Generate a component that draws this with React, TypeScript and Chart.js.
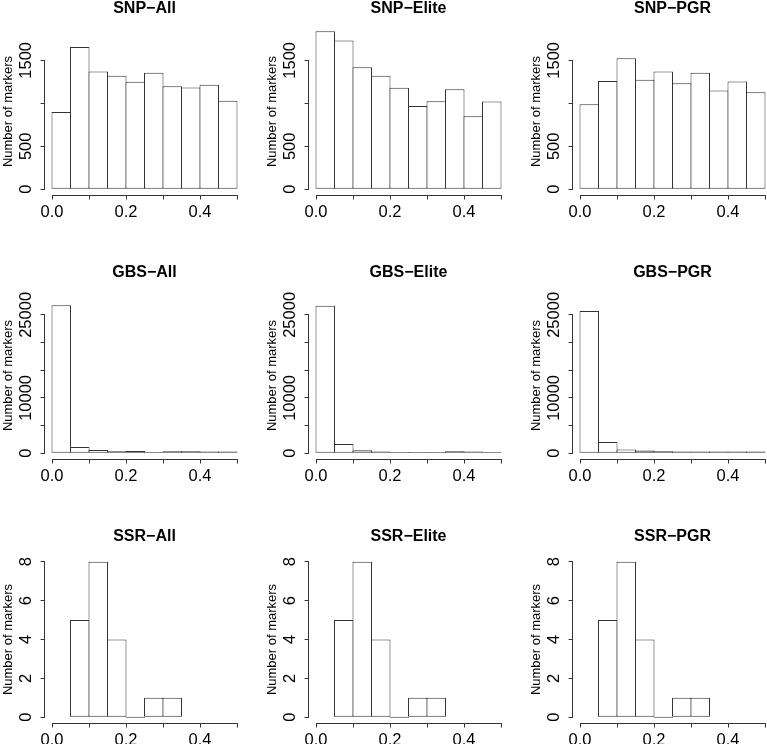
import React, { useEffect, useRef } from "react";
import { Chart, registerables } from "chart.js";

Chart.register(...registerables);

// ---------- data ----------
const fullBinCenters = [0.025, 0.075, 0.125, 0.175, 0.225, 0.275, 0.325, 0.375, 0.425, 0.475];
const ssrBinCenters = [0.075, 0.125, 0.175, 0.225, 0.275, 0.325];

const snpAll = [900, 1655, 1370, 1320, 1250, 1355, 1200, 1185, 1215, 1030];
const snpElite = [1840, 1730, 1420, 1320, 1180, 970, 1025, 1165, 850, 1020];
const snpPgr = [990, 1260, 1525, 1275, 1370, 1235, 1355, 1150, 1255, 1130];

const gbsAll = [26750, 1150, 600, 360, 420, 240, 360, 360, 300, 300];
const gbsElite = [26670, 1690, 540, 300, 240, 240, 240, 360, 300, 240];
const gbsPgr = [25720, 2050, 660, 480, 360, 300, 300, 300, 300, 300];

const ssrAll = [5, 8, 4, 0, 1, 1];
const ssrElite = [5, 8, 4, 0, 1, 1];
const ssrPgr = [5, 8, 4, 0, 1, 1];

const xTickValues = [0, 0.1, 0.2, 0.3, 0.4, 0.5];
const xTickLabels = ["0.0", "", "0.2", "", "0.4", ""];

const snpYTicks = [0, 500, 1000, 1500];
const snpYLabels = ["0", "500", "", "1500"];
const gbsYTicks = [0, 5000, 10000, 15000, 20000, 25000];
const gbsYLabels = ["0", "", "10000", "", "", "25000"];
const ssrYTicks = [0, 2, 4, 6, 8];
const ssrYLabels = ["0", "2", "4", "6", "8"];

const rowYMax = [1810, 28100, 8];
const yAxisTitle = "Number of markers";

// ---------- styling ----------
const FAMILY = '"Liberation Sans", Arial, Helvetica, sans-serif';
const LINE = "#333333";
const PANEL = 264;
const TICK_LEN = 4;
const TICK_FONT = 16.5;

type PanelSpec = {
  title: string;
  bins: number[];
  counts: number[];
  row: number;
  col: number;
  yTicks: number[];
  yLabels: string[];
};

const panels: PanelSpec[] = [
  { title: "SNP\u2212All", bins: fullBinCenters, counts: snpAll, row: 0, col: 0, yTicks: snpYTicks, yLabels: snpYLabels },
  { title: "SNP\u2212Elite", bins: fullBinCenters, counts: snpElite, row: 0, col: 1, yTicks: snpYTicks, yLabels: snpYLabels },
  { title: "SNP\u2212PGR", bins: fullBinCenters, counts: snpPgr, row: 0, col: 2, yTicks: snpYTicks, yLabels: snpYLabels },
  { title: "GBS\u2212All", bins: fullBinCenters, counts: gbsAll, row: 1, col: 0, yTicks: gbsYTicks, yLabels: gbsYLabels },
  { title: "GBS\u2212Elite", bins: fullBinCenters, counts: gbsElite, row: 1, col: 1, yTicks: gbsYTicks, yLabels: gbsYLabels },
  { title: "GBS\u2212PGR", bins: fullBinCenters, counts: gbsPgr, row: 1, col: 2, yTicks: gbsYTicks, yLabels: gbsYLabels },
  { title: "SSR\u2212All", bins: ssrBinCenters, counts: ssrAll, row: 2, col: 0, yTicks: ssrYTicks, yLabels: ssrYLabels },
  { title: "SSR\u2212Elite", bins: ssrBinCenters, counts: ssrElite, row: 2, col: 1, yTicks: ssrYTicks, yLabels: ssrYLabels },
  { title: "SSR\u2212PGR", bins: ssrBinCenters, counts: ssrPgr, row: 2, col: 2, yTicks: ssrYTicks, yLabels: ssrYLabels },
];

function alignPx(p: number) {
  return Math.round(p - 0.5) + 0.5;
}

// Draws R-style axis lines spanning first to last tick
const rAxisLines = {
  id: "rAxisLines",
  afterDraw(chart: any) {
    const ctx = chart.ctx;
    try {
      const area = chart.chartArea;
      const xs = chart.scales.x;
      const ys = chart.scales.y;
      const xv: number[] = xTickValues;
      const yv: number[] = (chart.options as any)._yTickValues || (ys.ticks || []).map((t: any) => t.value);
      ctx.save();
      ctx.strokeStyle = LINE;
      ctx.lineWidth = 1;
      const yb = alignPx(area.bottom);
      ctx.beginPath();
      ctx.moveTo(alignPx(xs.getPixelForValue(xv[0])) - 0.5, yb);
      ctx.lineTo(alignPx(xs.getPixelForValue(xv[xv.length - 1])) + 0.5, yb);
      ctx.stroke();
      const xl = alignPx(area.left);
      ctx.beginPath();
      ctx.moveTo(xl, alignPx(ys.getPixelForValue(yv[0])) + 0.5);
      ctx.lineTo(xl, alignPx(ys.getPixelForValue(yv[yv.length - 1])) - 0.5);
      ctx.stroke();
      ctx.restore();
    } catch (e) {
      ctx.save();
      ctx.fillStyle = "red";
      ctx.font = "10px sans-serif";
      ctx.fillText(String(e).slice(0, 60), 5, 120);
      ctx.restore();
    }
  },
};

function measureWidest(labels: string[], size: number) {
  const c = document.createElement("canvas");
  const ctx = c.getContext("2d")!;
  ctx.font = `${size}px ${FAMILY}`;
  let w = 0;
  labels.forEach((l) => {
    w = Math.max(w, ctx.measureText(l).width);
  });
  return w;
}

function HistPanel({ spec }: { spec: PanelSpec }) {
  const ref = useRef<HTMLCanvasElement | null>(null);

  useEffect(() => {
    if (!ref.current) return;
    const yMax = rowYMax[spec.row];
    const widest = measureWidest(spec.yLabels, TICK_FONT);
    const yPad = 17.9 - TICK_LEN - widest / 2;
    const tickGrid = {
      display: true,
      drawOnChartArea: false,
      drawTicks: true,
      offset: false,
      tickLength: TICK_LEN,
      color: LINE,
      lineWidth: 1,
    };
    const chart = new Chart(ref.current, {
      type: "bar",
      data: {
        datasets: [
          {
            data: spec.bins.map((b, i) => ({ x: b, y: spec.counts[i] })),
            backgroundColor: "#ffffff",
            borderColor: LINE,
            borderWidth: 1,
            borderSkipped: false,
            barPercentage: 1.054,
            categoryPercentage: 1,
            minBarLength: 1,
            inflateAmount: 0,
          } as any,
        ],
      },
      options: {
        _yTickValues: spec.yTicks,
        responsive: false,
        animation: false,
        devicePixelRatio: 1,
        layout: { padding: { left: 0, right: 19.6, top: 0, bottom: 0 } },
        plugins: {
          legend: { display: false },
          tooltip: { enabled: false },
          title: {
            display: true,
            text: spec.title,
            fullSize: false,
            color: "#000",
            font: { family: FAMILY, size: 16, weight: "bold", lineHeight: 1 },
            padding: { top: 0.5, bottom: 11 },
          },
        },
        scales: {
          x: {
            type: "linear",
            offset: false,
            min: -0.02,
            max: 0.52,
            afterBuildTicks: (s: any) => {
              s.ticks = xTickValues.map((v) => ({ value: v }));
            },
            afterFit: (s: any) => {
              s.height = PANEL - 195.5;
            },
            grid: tickGrid,
            border: { display: false },
            ticks: {
              autoSkip: false,
              maxRotation: 0,
              minRotation: 0,
              padding: 3,
              color: "#000",
              font: { family: FAMILY, size: TICK_FONT },
              callback: (_v: any, i: number) => xTickLabels[i],
            },
          },
          y: {
            type: "linear",
            min: -0.04 * yMax,
            max: 1.04 * yMax,
            afterBuildTicks: (s: any) => {
              s.ticks = spec.yTicks.map((v) => ({ value: v }));
            },
            afterFit: (s: any) => {
              s.width = 44.6;
            },
            grid: tickGrid,
            border: { display: false },
            title: {
              display: true,
              text: yAxisTitle,
              color: "#000",
              font: { family: FAMILY, size: 13, lineHeight: 1.2 },
              padding: { top: 0.5, bottom: 0 },
            },
            ticks: {
              autoSkip: false,
              minRotation: 90,
              maxRotation: 90,
              crossAlign: "center",
              padding: yPad,
              color: "#000",
              font: { family: FAMILY, size: TICK_FONT },
              callback: (_v: any, i: number) => spec.yLabels[i],
            },
          },
        },
      } as any,
      plugins: [rAxisLines],
    });
    return () => chart.destroy();
  }, [spec]);

  return (
    <canvas
      ref={ref}
      width={PANEL}
      height={PANEL}
      style={{
        position: "absolute",
        left: spec.col * PANEL,
        top: spec.row * PANEL,
        width: PANEL,
        height: PANEL,
      }}
    />
  );
}

export default function App() {
  return (
    <div
      style={{
        position: "absolute",
        left: 0,
        top: 0,
        width: 767,
        height: 744,
        overflow: "hidden",
        background: "#ffffff",
      }}
    >
      {panels.map((p) => (
        <HistPanel key={p.title} spec={p} />
      ))}
    </div>
  );
}
